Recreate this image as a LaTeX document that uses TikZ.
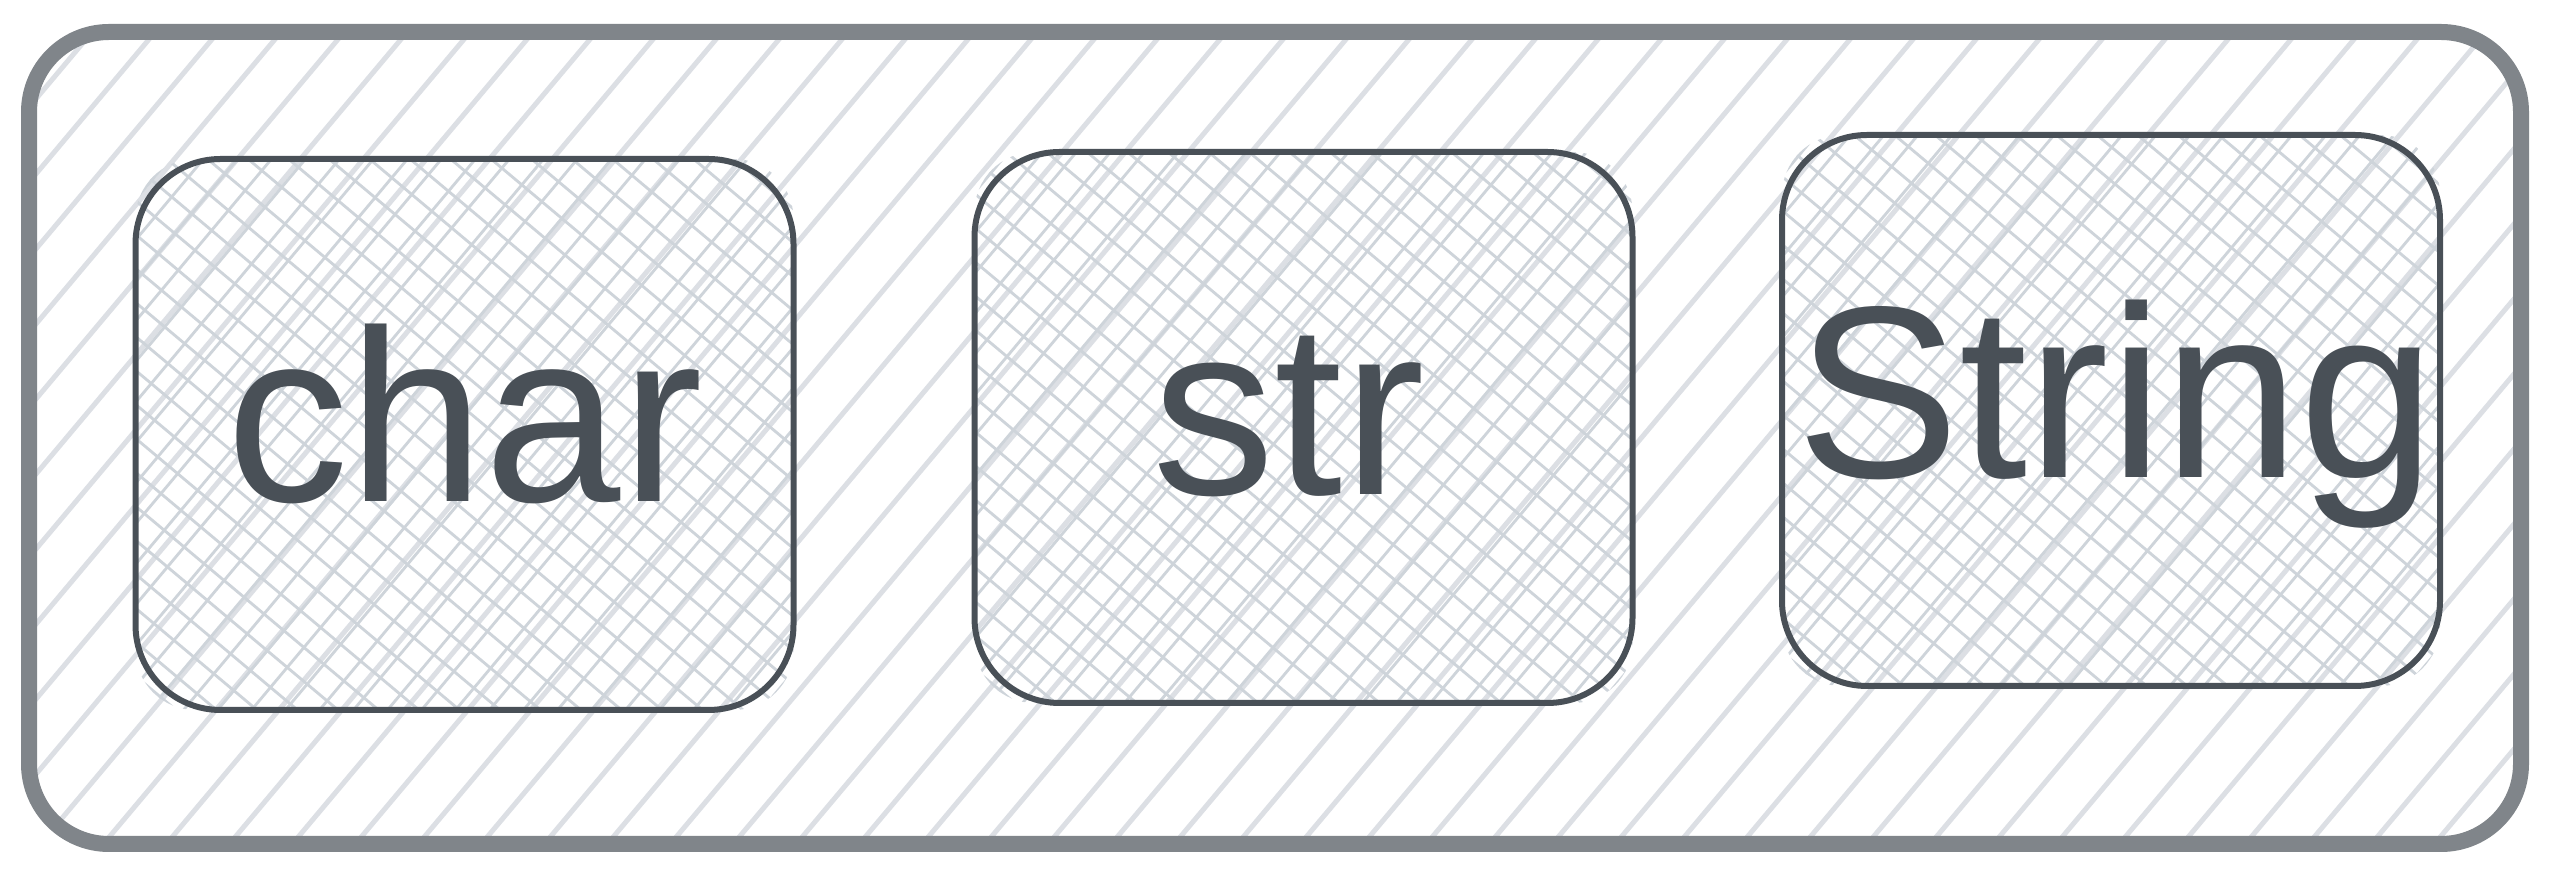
\documentclass[tikz,border=0pt]{standalone}
\usepackage{fontspec}
\setmainfont{Liberation Sans}
\definecolor{outerstroke}{HTML}{80858A}
\definecolor{innerstroke}{HTML}{495057}
\definecolor{hatchA}{HTML}{DCDFE4}
\definecolor{hatchB}{HTML}{CED4DA}
\definecolor{textcol}{HTML}{495057}
\tikzset{
  keybox/.style={minimum width=197.4pt, minimum height=165.3pt, inner sep=0pt, outer sep=0pt},
  innerline/.style={draw=innerstroke, line width=1.8pt, rounded corners=25.5pt},
  outerline/.style={draw=outerstroke, line width=4.8pt, rounded corners=24pt},
  hatchline/.style={draw=hatchA, line width=1.5pt, line cap=round},
  crossline/.style={draw=hatchB, line width=0.85pt},
  lbl/.style={text=textcol, font=\fontsize{73.5}{88}\selectfont, inner sep=0pt, anchor=base}
}
\begin{document}
\begin{tikzpicture}[x=0.3pt,y=-0.3pt]
\useasboundingbox (0,0) rectangle (2551,873);
% outer frame corners
\coordinate (onw) at (29,32);
\coordinate (ose) at (2521,844);
% inner boxes (outlines drawn later)
\node[keybox] (bc) at (464.5,434.5) {};
\node[keybox] (bs) at (1303.5,427.5) {};
\node[keybox] (bS) at (2111,410.5) {};
% outer hachure
\begin{scope}
  \clip[rounded corners=24pt] (onw) rectangle (ose);
  \foreach \i in {0,...,53} {
    \draw[hatchline] ({-740+\i*63},873) -- ++(733,-873);
  }
\end{scope}
% inner cross-hatch
\foreach \b in {bc,bs,bS} {
  \begin{scope}
    \clip[rounded corners=18pt] (\b.north west) rectangle (\b.south east);
    \path (\b.south west) coordinate (sw);
    \path (\b.north west) coordinate (nw);
    \foreach \i in {0,...,34} {
      \draw[crossline] ([xshift={(-462+\i*34)*0.3pt}]sw) -- ++(462,-551);
    }
    \foreach \i in {0,...,33} {
      \draw[crossline] ([xshift={(-657+\i*40.5)*0.3pt}]nw) -- ++(657,551);
    }
  \end{scope}
}
% outlines
\draw[innerline] (bc.north west) rectangle (bc.south east);
\draw[innerline] (bs.north west) rectangle (bs.south east);
\draw[innerline] (bS.north west) rectangle (bS.south east);
\draw[outerline] (onw) rectangle (ose);
% labels
\node[lbl] (tc) at ([yshift=-20.1pt]bc.center) {char};
\node[lbl] (ts) at ([xshift=-4.5pt,yshift=-20.1pt]bs.center) {str};
\node[lbl] (tS) at ([xshift=1.5pt,yshift=-20.1pt]bS.center) {String};
\end{tikzpicture}
\end{document}
